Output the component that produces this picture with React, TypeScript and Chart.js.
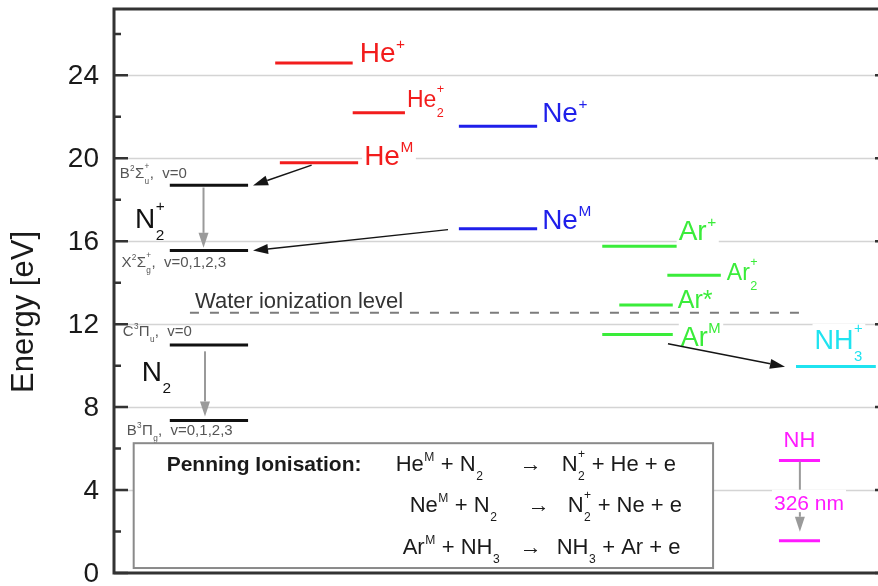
import React, { useEffect, useRef } from 'react';
import { Chart, registerables } from 'chart.js';

Chart.register(...registerables);

const FONT = '"Liberation Sans", Arial, Helvetica, sans-serif';

// ---- axis ----
const yMin = 0;
const yMax = 27.2;
const yMajorTicks = [0, 4, 8, 12, 16, 20, 24];
const yMinorTicks = [2, 6, 10, 14, 18, 22, 26];
const yTitle = 'Energy [eV]';

// ---- energy levels (eV) ----
const levelIds = ['He+', 'He2+', 'HeM', 'Ne+', 'NeM', 'N2+ B', 'N2+ X', 'N2 C', 'N2 B', 'Ar+', 'Ar2+', 'Ar*', 'ArM', 'NH3+', 'NH upper', 'NH lower'];
const levelEnergies = [24.6, 22.2, 19.78, 21.55, 16.6, 18.7, 15.55, 11.0, 7.35, 15.76, 14.36, 12.93, 11.5, 9.96, 5.42, 1.56];
const levelXStart = [20.8, 30.8, 21.4, 44.5, 44.5, 7.2, 7.2, 7.2, 7.2, 63.0, 71.4, 65.2, 63.0, 88.0, 85.8, 85.8];
const levelXEnd = [30.8, 37.8, 31.5, 54.6, 54.6, 17.3, 17.3, 17.3, 17.3, 72.6, 78.3, 72.1, 72.1, 98.3, 91.1, 91.1];

const RED = '#f21c1c';
const BLUE = '#1f1fea';
const GREEN = '#3aec3a';
const CYAN = '#1fe3f0';
const MAGENTA = '#ff1aff';
const BLACK = '#111111';
const levelColors = [RED, RED, RED, BLUE, BLUE, BLACK, BLACK, BLACK, BLACK, GREEN, GREEN, GREEN, GREEN, CYAN, MAGENTA, MAGENTA];

// water ionisation level
const waterEnergy = 12.55;
const waterXStart = 9.8;
const waterXEnd = 89.8;
const waterText = 'Water ionization level';

// arrows: [x0, E0, x1, E1]
const arrowsBlack = [
  [25.5, 19.67, 17.94, 18.69],
  [43.1, 16.56, 17.94, 15.55],
  [71.48, 11.06, 86.58, 9.95],
];
const arrowsGray = [
  [11.55, 18.59, 11.55, 15.68],
  [11.74, 10.69, 11.74, 7.55],
  [88.5, 5.37, 88.5, 1.99],
];
const nhTransition = '326 nm';

// Penning box extents [x0, E0, x1, E1]
const penningBox = [2.54, 6.26, 77.3, 0.24];

type Seg = string | { sup?: string; sub?: string };

const levelLabels: { level: number; segs: Seg[]; size: number; at: 'end' | 'center'; dx: number; dy: number }[] = [
  { level: 0, segs: ['He', { sup: '+' }], size: 28, at: 'end', dx: 7, dy: -1 },
  { level: 1, segs: ['He', { sup: '+', sub: '2' }], size: 23, at: 'end', dx: 0, dy: -6 },
  { level: 2, segs: ['He', { sup: 'M' }], size: 28, at: 'end', dx: 6, dy: 2 },
  { level: 3, segs: ['Ne', { sup: '+' }], size: 28, at: 'end', dx: 5, dy: -4 },
  { level: 4, segs: ['Ne', { sup: 'M' }], size: 28, at: 'end', dx: 5, dy: 0 },
  { level: 9, segs: ['Ar', { sup: '+' }], size: 28, at: 'end', dx: 2, dy: -6 },
  { level: 10, segs: ['Ar', { sup: '+', sub: '2' }], size: 23, at: 'end', dx: 6, dy: 5 },
  { level: 11, segs: ['Ar*'], size: 25, at: 'end', dx: 5, dy: 3 },
  { level: 12, segs: ['Ar', { sup: 'M' }], size: 27, at: 'end', dx: 8, dy: 11 },
  { level: 13, segs: ['NH', { sup: '+', sub: '3' }], size: 27, at: 'center', dx: 3, dy: -17 },
  { level: 14, segs: ['NH'], size: 22, at: 'center', dx: 0, dy: -14 },
];

const stateLabels: { level: number; segs: Seg[]; dx: number; dy: number }[] = [
  { level: 5, segs: ['B', { sup: '2' }, 'Σ', { sup: '+', sub: 'u' }, ',  v=0'], dx: -50, dy: -7.7 },
  { level: 6, segs: ['X', { sup: '2' }, 'Σ', { sup: '+', sub: 'g' }, ',  v=0,1,2,3'], dx: -48.3, dy: 16 },
  { level: 7, segs: ['C', { sup: '3' }, 'Π', { sub: 'u' }, ',  v=0'], dx: -47, dy: -9 },
  { level: 8, segs: ['B', { sup: '3' }, 'Π', { sub: 'g' }, ',  v=0,1,2,3'], dx: -43, dy: 14.3 },
];

// molecule labels [x, E]
const moleculeLabels: { segs: Seg[]; x: number; e: number }[] = [
  { segs: ['N', { sup: '+', sub: '2' }], x: 2.71, e: 16.64 },
  { segs: ['N', { sub: '2' }], x: 3.57, e: 9.24 },
];

const penningTitle = 'Penning Ionisation:';
const penningLeft: Seg[][] = [
  ['He', { sup: 'M' }, ' + N', { sub: '2' }],
  ['Ne', { sup: 'M' }, ' + N', { sub: '2' }],
  ['Ar', { sup: 'M' }, ' + NH', { sub: '3' }],
];
const penningRight: Seg[][] = [
  ['N', { sup: '+', sub: '2' }, ' + He + e'],
  ['N', { sup: '+', sub: '2' }, ' + Ne + e'],
  ['NH', { sub: '3' }, ' + Ar + e'],
];
const penningLeftX = [262, 276, 269];
const penningArrowX = [386, 394, 386];
const penningRightX = [428, 434, 423];
const penningBaselines = [27.7, 68.7, 110.7];

function font(size: number, bold = false) {
  return `${bold ? 'bold ' : ''}${size}px ${FONT}`;
}

function measureRich(ctx: CanvasRenderingContext2D, segs: Seg[], size: number, bold = false) {
  const small = size * 0.55;
  let w = 0;
  for (const s of segs) {
    if (typeof s === 'string') {
      ctx.font = font(size, bold);
      w += ctx.measureText(s).width;
    } else {
      ctx.font = font(small, bold);
      const a = s.sup ? ctx.measureText(s.sup).width : 0;
      const b = s.sub ? ctx.measureText(s.sub).width : 0;
      w += Math.max(a, b) + size * 0.04;
    }
  }
  return w;
}

function drawRich(
  ctx: CanvasRenderingContext2D,
  segs: Seg[],
  x: number,
  y: number,
  size: number,
  color: string,
  opts: { bold?: boolean; bg?: boolean; align?: 'left' | 'center' } = {}
) {
  const small = size * 0.55;
  const w = measureRich(ctx, segs, size, opts.bold);
  let cx = opts.align === 'center' ? x - w / 2 : x;
  if (opts.bg) {
    const hasSub = segs.some((s) => typeof s !== 'string' && !!s.sub);
    const top = y - size * 0.95;
    const bottom = y + (hasSub ? size * 0.45 : size * 0.12);
    ctx.fillStyle = '#ffffff';
    ctx.fillRect(cx - 2, top, w + 4, bottom - top);
  }
  ctx.fillStyle = color;
  ctx.textAlign = 'left';
  ctx.textBaseline = 'alphabetic';
  for (const s of segs) {
    if (typeof s === 'string') {
      ctx.font = font(size, opts.bold);
      ctx.fillText(s, cx, y);
      cx += ctx.measureText(s).width;
    } else {
      ctx.font = font(small, opts.bold);
      const stacked = !!(s.sup && s.sub);
      const a = s.sup ? ctx.measureText(s.sup).width : 0;
      const b = s.sub ? ctx.measureText(s.sub).width : 0;
      if (s.sup) ctx.fillText(s.sup, cx + size * 0.02, y - size * (stacked ? 0.6 : 0.47));
      if (s.sub) ctx.fillText(s.sub, cx + size * 0.02, y + size * 0.43);
      cx += Math.max(a, b) + size * 0.04;
    }
  }
  return w;
}

function drawArrow(
  ctx: CanvasRenderingContext2D,
  x0: number, y0: number, x1: number, y1: number,
  color: string, lw: number, hl: number, hw: number
) {
  const ang = Math.atan2(y1 - y0, x1 - x0);
  const bx = x1 - hl * Math.cos(ang);
  const by = y1 - hl * Math.sin(ang);
  ctx.strokeStyle = color;
  ctx.lineWidth = lw;
  ctx.setLineDash([]);
  ctx.beginPath();
  ctx.moveTo(x0, y0);
  ctx.lineTo(bx, by);
  ctx.stroke();
  ctx.fillStyle = color;
  ctx.beginPath();
  ctx.moveTo(x1, y1);
  ctx.lineTo(bx + hw * Math.sin(ang), by - hw * Math.cos(ang));
  ctx.lineTo(bx - hw * Math.sin(ang), by + hw * Math.cos(ang));
  ctx.closePath();
  ctx.fill();
}

const diagramPlugin = {
  id: 'diagram',
  beforeDraw(chart: any) {
    const ctx: CanvasRenderingContext2D = chart.ctx;
    ctx.save();
    ctx.fillStyle = '#ffffff';
    ctx.fillRect(0, 0, chart.width, chart.height);
    ctx.restore();
  },
  beforeDatasetsDraw(chart: any) {
    const ctx: CanvasRenderingContext2D = chart.ctx;
    const ca = chart.chartArea;
    const xs = chart.scales.x;
    const ys = chart.scales.y;
    ctx.save();
    // grid lines
    ctx.strokeStyle = '#d4d4d4';
    ctx.lineWidth = 1.5;
    for (const t of yMajorTicks) {
      if (t === 0) continue;
      const py = Math.round(ys.getPixelForValue(t)) + 0.5;
      ctx.beginPath();
      ctx.moveTo(ca.left, py);
      ctx.lineTo(ca.right, py);
      ctx.stroke();
    }
    // water level
    const wy = ys.getPixelForValue(waterEnergy);
    const wx0 = xs.getPixelForValue(waterXStart);
    const wx1 = xs.getPixelForValue(waterXEnd);
    ctx.strokeStyle = '#7c7c7c';
    ctx.lineWidth = 2;
    ctx.setLineDash([9, 11]);
    ctx.beginPath();
    ctx.moveTo(wx0, wy);
    ctx.lineTo(wx1, wy);
    ctx.stroke();
    ctx.setLineDash([]);
    ctx.font = font(22);
    ctx.fillStyle = '#333333';
    ctx.textAlign = 'left';
    ctx.textBaseline = 'alphabetic';
    ctx.fillText(waterText, wx0 + 5, wy - 5);
    ctx.restore();
  },
  afterDatasetsDraw(chart: any) {
    const ctx: CanvasRenderingContext2D = chart.ctx;
    const ca = chart.chartArea;
    const xs = chart.scales.x;
    const ys = chart.scales.y;
    const X = (v: number) => xs.getPixelForValue(v);
    const Y = (v: number) => ys.getPixelForValue(v);
    ctx.save();

    // level labels
    for (const l of levelLabels) {
      const py = Y(levelEnergies[l.level]) + l.dy;
      const color = levelColors[l.level];
      if (l.at === 'end') {
        drawRich(ctx, l.segs, X(levelXEnd[l.level]) + l.dx, py, l.size, color, { bg: true });
      } else {
        const cx = (X(levelXStart[l.level]) + X(levelXEnd[l.level])) / 2 + l.dx;
        drawRich(ctx, l.segs, cx, py, l.size, color, { bg: true, align: 'center' });
      }
    }

    // arrows
    for (const a of arrowsBlack) drawArrow(ctx, X(a[0]), Y(a[1]), X(a[2]), Y(a[3]), '#151515', 1.5, 15, 5);
    for (const a of arrowsGray) drawArrow(ctx, X(a[0]), Y(a[1]), X(a[2]), Y(a[3]), '#9a9a9a', 2, 15, 5);

    // state labels
    for (const s of stateLabels) {
      drawRich(ctx, s.segs, X(levelXStart[s.level]) + s.dx, Y(levelEnergies[s.level]) + s.dy, 15, '#555555');
    }
    // molecule labels
    for (const m of moleculeLabels) {
      drawRich(ctx, m.segs, X(m.x), Y(m.e), 28, '#111111');
    }

    // 326 nm
    {
      const cx = (X(levelXStart[14]) + X(levelXEnd[14])) / 2 + 9.5;
      const py = (Y(levelEnergies[14]) + Y(levelEnergies[15])) / 2 + 9;
      drawRich(ctx, [nhTransition], cx, py, 21, MAGENTA, { bg: true, align: 'center' });
    }

    // Penning box
    {
      const bx0 = X(penningBox[0]);
      const by0 = Y(penningBox[1]);
      const bx1 = X(penningBox[2]);
      const by1 = Y(penningBox[3]);
      ctx.fillStyle = '#ffffff';
      ctx.fillRect(bx0, by0, bx1 - bx0, by1 - by0);
      ctx.strokeStyle = '#8a8a8a';
      ctx.lineWidth = 2;
      ctx.strokeRect(bx0, by0, bx1 - bx0, by1 - by0);
      ctx.font = font(21, true);
      ctx.fillStyle = '#1a1a1a';
      ctx.textAlign = 'left';
      ctx.textBaseline = 'alphabetic';
      ctx.fillText(penningTitle, bx0 + 33, by0 + penningBaselines[0]);
      for (let i = 0; i < 3; i++) {
        const by = by0 + penningBaselines[i];
        drawRich(ctx, penningLeft[i], bx0 + penningLeftX[i], by, 22, '#1a1a1a');
        drawRich(ctx, ['→'], bx0 + penningArrowX[i], by, 22, '#1a1a1a');
        drawRich(ctx, penningRight[i], bx0 + penningRightX[i], by, 22, '#1a1a1a');
      }
    }

    // frame
    ctx.strokeStyle = '#333333';
    ctx.lineWidth = 3;
    ctx.beginPath();
    ctx.moveTo(ca.left, ca.top);
    ctx.lineTo(ca.right, ca.top);
    ctx.moveTo(ca.left, ca.bottom);
    ctx.lineTo(ca.right, ca.bottom);
    ctx.moveTo(ca.left, ca.top - 1.5);
    ctx.lineTo(ca.left, ca.bottom + 1.5);
    ctx.moveTo(ca.right, ca.top - 1.5);
    ctx.lineTo(ca.right, ca.bottom + 1.5);
    ctx.stroke();

    // ticks
    ctx.lineWidth = 2.5;
    ctx.strokeStyle = '#333333';
    for (const t of yMajorTicks) {
      const py = Y(t);
      ctx.beginPath();
      ctx.moveTo(ca.left, py);
      ctx.lineTo(ca.left + 14, py);
      ctx.moveTo(ca.right, py);
      ctx.lineTo(ca.right - 14, py);
      ctx.stroke();
    }
    for (const t of yMinorTicks) {
      const py = Y(t);
      ctx.beginPath();
      ctx.moveTo(ca.left, py);
      ctx.lineTo(ca.left + 7, py);
      ctx.moveTo(ca.right, py);
      ctx.lineTo(ca.right - 7, py);
      ctx.stroke();
    }
    // tick labels
    ctx.font = font(28);
    ctx.fillStyle = '#1a1a1a';
    ctx.textAlign = 'right';
    ctx.textBaseline = 'middle';
    for (const t of yMajorTicks) {
      ctx.fillText(String(t), ca.left - 15, Y(t) + 1);
    }
    // title
    ctx.translate(33, (ca.top + ca.bottom) / 2 + 21);
    ctx.rotate(-Math.PI / 2);
    ctx.font = font(31);
    ctx.textAlign = 'center';
    ctx.textBaseline = 'alphabetic';
    ctx.fillText(yTitle, 0, 0);
    ctx.restore();
  },
};

export default function App() {
  const canvasRef = useRef<HTMLCanvasElement | null>(null);

  useEffect(() => {
    const canvas = canvasRef.current;
    if (!canvas) return;
    const datasets = levelIds.map((id, i) => ({
      label: id,
      data: [
        { x: levelXStart[i], y: levelEnergies[i] },
        { x: levelXEnd[i], y: levelEnergies[i] },
      ],
      showLine: true,
      borderColor: levelColors[i],
      backgroundColor: levelColors[i],
      borderWidth: 3,
      pointRadius: 0,
      fill: false,
    }));
    const chart = new Chart(canvas, {
      type: 'scatter',
      data: { datasets },
      options: {
        responsive: false,
        animation: false,
        devicePixelRatio: 1,
        events: [],
        layout: { padding: { left: 114, top: 9, right: 11, bottom: 13 } },
        scales: {
          x: { type: 'linear', min: 0, max: 100, display: false },
          y: { type: 'linear', min: yMin, max: yMax, display: false },
        },
        plugins: { legend: { display: false }, tooltip: { enabled: false } },
      },
      plugins: [diagramPlugin],
    } as any);
    return () => chart.destroy();
  }, []);

  return (
    <div
      style={{
        position: 'fixed',
        left: 0,
        top: 0,
        width: 878,
        height: 586,
        overflow: 'hidden',
        background: '#ffffff',
      }}
    >
      <canvas ref={canvasRef} width={900} height={586} style={{ width: 900, height: 586, display: 'block' }} />
    </div>
  );
}
